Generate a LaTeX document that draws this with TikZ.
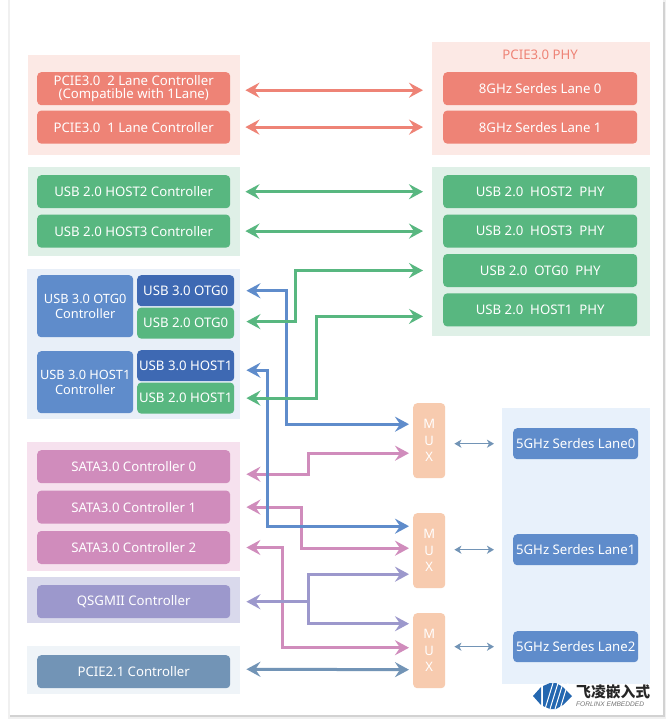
\documentclass[tikz,border=0pt]{standalone}
\usepackage{fontspec}
\setsansfont{Noto Sans}
\newfontfamily\cjkfont{Noto Sans CJK SC}
\newfontfamily\logofont{Liberation Sans}
\usepackage{xcolor}
\usetikzlibrary{arrows.meta,positioning}
\definecolor{redbox}{HTML}{EE8376}
\definecolor{redpanel}{HTML}{FCE9E5}
\definecolor{greenbox}{HTML}{58B780}
\definecolor{greenpanel}{HTML}{DFF0E7}
\definecolor{bluebox}{HTML}{5F8CCB}
\definecolor{darkbox}{HTML}{3E69B3}
\definecolor{bluepanel}{HTML}{E8EFF8}
\definecolor{pinkbox}{HTML}{D08CBC}
\definecolor{pinkpanel}{HTML}{F6E1EE}
\definecolor{purplebox}{HTML}{9C98CC}
\definecolor{purplepanel}{HTML}{D9D9EC}
\definecolor{slatebox}{HTML}{7294B6}
\definecolor{slatepanel}{HTML}{EFF4F8}
\definecolor{muxbox}{HTML}{F7CBAF}
\definecolor{lanepanel}{HTML}{E8F1FB}
\definecolor{logoblue}{HTML}{2467B0}
\begin{document}
\begin{tikzpicture}[
    x=1pt, y=-1pt,
    font=\fontsize{13.2}{14}\selectfont\sffamily,
    box/.style={rounded corners=4pt, text=white, align=center, inner sep=0pt, minimum height=33pt, fill=#1},
    ctrl/.style={box=#1, minimum width=193pt},
    small/.style={box=#1, minimum width=97pt, minimum height=31pt},
    big/.style={box=bluebox, minimum width=96pt, minimum height=62pt, font=\fontsize{12.8}{15.5}\selectfont\sffamily},
    lane/.style={box=bluebox, minimum width=125pt, minimum height=31pt},
    phy/.style={box=#1, minimum width=194pt},
    panel/.style={fill=#1, inner sep=0pt, anchor=north west},
    mux/.style={box=muxbox, minimum width=32pt, minimum height=75pt, font=\fontsize{13}{16.5}\selectfont\sffamily},
    arr/.style={draw=#1, line width=3pt, {Stealth[length=14pt,width=15pt,inset=5pt]}-{Stealth[length=14pt,width=15pt,inset=5pt]}},
    arrone/.style={draw=#1, line width=3pt, -{Stealth[length=14pt,width=15pt,inset=5pt]}},
    thinarr/.style={draw=slatebox, line width=1.2pt, {Stealth[length=7pt,width=8pt,inset=2pt]}-{Stealth[length=7pt,width=8pt,inset=2pt]}}
  ]
  \useasboundingbox (0,0) rectangle (670,723);
  % card
  \fill[gray!12] (8,0) rectangle (666,719);
  \fill[gray!35] (10,2) rectangle (665,717);
  \fill[white] (10,0) rectangle (663,715);
  % panels
  \node[panel=redpanel, minimum width=212pt, minimum height=100pt] (pcieleft) at (28,55) {};
  \node[panel=redpanel, minimum width=218pt, minimum height=113pt] (pcieright) at (432,42) {};
  \node[panel=greenpanel, minimum width=212pt, minimum height=89pt] (usbleft) at (28,167) {};
  \node[panel=greenpanel, minimum width=218pt, minimum height=169pt] (usbright) at (432,167) {};
  \node[panel=bluepanel, minimum width=213pt, minimum height=150pt] (otgpanel) at (27,269) {};
  \node[panel=pinkpanel, minimum width=213pt, minimum height=129pt] (satapanel) at (27,442) {};
  \node[panel=purplepanel, minimum width=213pt, minimum height=46pt] (qspanel) at (27,577) {};
  \node[panel=slatepanel, minimum width=213pt, minimum height=48pt] (pciepanel) at (27,646) {};
  \node[panel=lanepanel, minimum width=148pt, minimum height=276pt] (lanepanel) at (502,408) {};
  % PCIE3.0
  \node[ctrl=redbox, anchor=north west] (pcietwo) at (37,72) {PCIE3.0\ \ 2 Lane Controller\\[-0.5pt](Compatible with 1Lane)};
  \node[ctrl=redbox, below=5pt of pcietwo] (pcieone) {PCIE3.0\ \ 1 Lane Controller};
  \node[phy=redbox, anchor=north west] (lanezero) at (443,72) {8GHz Serdes Lane 0};
  \node[phy=redbox, below=5pt of lanezero] (laneone) {8GHz Serdes Lane 1};
  \node[above=9pt of lanezero, text=redbox] (phytitle) {PCIE3.0 PHY};
  % USB 2.0
  \node[ctrl=greenbox, anchor=north west] (hosttwo) at (37,175) {USB 2.0 HOST2 Controller};
  \node[ctrl=greenbox, below=6pt of hosttwo] (hostthree) {USB 2.0 HOST3 Controller};
  \node[phy=greenbox, anchor=north west] (phytwo) at (443,175) {USB 2.0\ \ HOST2\ \ PHY};
  \node[phy=greenbox, below=6pt of phytwo] (phythree) {USB 2.0\ \ HOST3\ \ PHY};
  \node[phy=greenbox, below=6pt of phythree] (phyotg) {USB 2.0\ \ OTG0\ \ PHY};
  \node[phy=greenbox, below=6pt of phyotg] (phyhost) {USB 2.0\ \ HOST1\ \ PHY};
  % USB 3.0
  \node[big, anchor=north west] (otgctrl) at (37,275) {USB 3.0 OTG0\\Controller};
  \node[big, anchor=north west] (hostctrl) at (37,351) {USB 3.0 HOST1\\Controller};
  \node[small=darkbox, anchor=north west] (otgthree) at (137,275) {USB 3.0 OTG0};
  \node[small=greenbox, below=1pt of otgthree] (otgtwo) {USB 2.0 OTG0};
  \node[small=darkbox, anchor=north west] (hostusbthree) at (137,350) {USB 3.0 HOST1};
  \node[small=greenbox, below=1pt of hostusbthree] (hostusbtwo) {USB 2.0 HOST1};
  % SATA and the rest
  \node[ctrl=pinkbox, anchor=north west] (satazero) at (37,450) {SATA3.0 Controller 0};
  \node[ctrl=pinkbox, below=7pt of satazero] (sataone) {SATA3.0 Controller 1};
  \node[ctrl=pinkbox, below=7pt of sataone] (satatwo) {SATA3.0 Controller 2};
  \node[ctrl=purplebox, anchor=north west] (qsgmii) at (37,585) {QSGMII Controller};
  \node[ctrl=slatebox, anchor=north west] (pcietwoone) at (37,655) {PCIE2.1 Controller};
  % MUX and lanes
  \node[mux, anchor=north west] (muxzero) at (413,403) {M\\U\\X};
  \node[mux, anchor=north west] (muxone) at (413,513) {M\\U\\X};
  \node[mux, anchor=north west] (muxtwo) at (413,613) {M\\U\\X};
  \node[lane, anchor=north west] (sdzero) at (513,428) {5GHz Serdes Lane0};
  \node[lane, anchor=north west] (sdone) at (513,534) {5GHz Serdes Lane1};
  \node[lane, anchor=north west] (sdtwo) at (513,631) {5GHz Serdes Lane2};
  % top arrows
  \draw[arr=redbox, shorten <=15pt, shorten >=20pt] ([yshift=-1.5pt]pcietwo.east) -- ([yshift=-1.5pt]lanezero.west);
  \draw[arr=redbox, shorten <=15pt, shorten >=20pt] (pcieone.east) -- (laneone.west);
  \draw[arr=greenbox, shorten <=15pt, shorten >=20pt] (hosttwo.east) -- (phytwo.west);
  \draw[arr=greenbox, shorten <=15pt, shorten >=20pt] (hostthree.east) -- (phythree.west);
  % pink below blue below green
  \draw[arr=pinkbox, shorten <=16pt, shorten >=4pt] ([yshift=-7.5pt]satazero.east) -- ++(78,0) |- ([yshift=-12.5pt]muxzero.west);
  \draw[arr=pinkbox, shorten <=16pt, shorten >=4pt] (sataone.east) -- ++(71,0) |- ([yshift=2.5pt]muxone.west);
  \draw[arr=pinkbox, shorten <=16pt, shorten >=4pt] (satatwo.east) -- ++(52,0) |- ([yshift=3pt]muxtwo.west);
  \draw[arr=bluebox, shorten <=12pt, shorten >=4pt] (otgthree.east) -- ++(52,0) |- ([yshift=16.5pt]muxzero.west);
  \draw[arr=bluebox, shorten <=12pt, shorten >=4pt] ([yshift=-4.5pt]hostusbthree.east) -- ++(33,0) |- ([yshift=24.5pt]muxone.west);
  \draw[arr=greenbox, shorten <=12pt, shorten >=20pt] ([yshift=1.5pt]otgtwo.east) -- ++(61,0) |- (phyotg.west);
  \draw[arr=greenbox, shorten <=12pt, shorten >=20pt] (hostusbtwo.east) -- ++(82,0) |- ([yshift=-6.5pt]phyhost.west);
  \coordinate[right=78pt of qsgmii.east] (qsjoin);
  \draw[arr=purplebox, shorten <=16pt, shorten >=4pt] (qsgmii.east) -- (qsjoin) |- ([yshift=-23.5pt]muxone.west);
  \draw[arrone=purplebox, shorten >=4pt] (qsjoin) |- ([yshift=27pt]muxtwo.west);
  \draw[arr=slatebox, shorten <=16pt, shorten >=4pt] ([yshift=2.5pt]pcietwoone.east) -- ([yshift=-19pt]muxtwo.west);
  % lanes
  \draw[thinarr, shorten <=9pt, shorten >=19pt] (muxzero.east |- sdzero.west) -- (sdzero.west);
  \draw[thinarr, shorten <=9pt, shorten >=19pt] (muxone.east |- sdone.west) -- (sdone.west);
  \draw[thinarr, shorten <=9pt, shorten >=19pt] (muxtwo.east |- sdtwo.west) -- (sdtwo.west);
  % logo
  \fill[logoblue] (533,696) -- (541,687) -- (541,705) -- cycle;
  \fill[logoblue] (543,686) -- (550,683) -- (556,683) -- (563,687) -- (572,696) -- (563,705) -- (556,709) -- (550,709) -- (543,706) -- cycle;
  \foreach \i in {0,...,3}
    \draw[white, line width=1pt] (545+\i*5,709) -- (553+\i*5,683);
  \node[anchor=west, inner sep=0pt, text=black!85, font=\fontsize{14.8}{15}\selectfont\cjkfont\bfseries] (logotext) at (576,692) {飞凌嵌入式};
  \node[anchor=west, inner sep=0pt, text=black!55, font=\fontsize{6.6}{7}\selectfont\logofont\itshape] (logosub) at (576,704) {FORLINX EMBEDDED};
\end{tikzpicture}
\end{document}
